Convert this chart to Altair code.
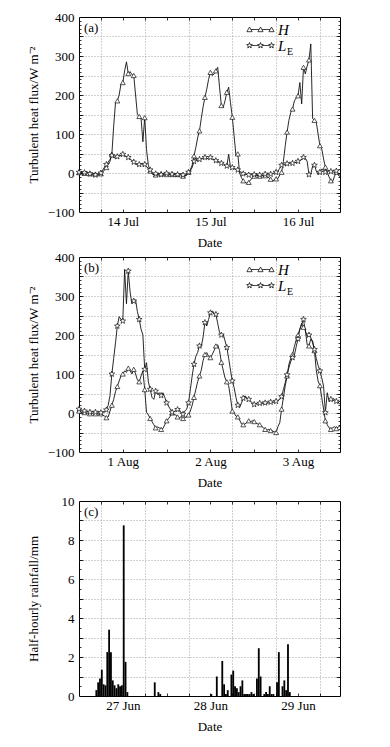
import math
import altair as alt
import pandas as pd

# ---------------- data (half-hourly, index i -> hour i*0.5) ----------------
H_a = [1, 0, 2, -1, 0, 1, -2, 0, -1, -3, -4, -3,
       -2, 3, 8, 14, 22, 30, 48, 120, 180, 185, 200, 228, 232, 262, 285, 255, 260, 252,
       250, 200, 150, 145, 140, 80, 142, 60, 20, 5, -2, -4,
       -5, -3, -4, -2, -5, -3, -4, -6, -3, -4, -5, -2, -4, -3, -6, -8, -7, -5,
       2, 8, 20, 44, 65, 90, 108, 140, 170, 194, 215, 240, 258, 250, 254, 262, 271, 220,
       173, 168, 185, 207, 220, 180, 143, 95, 44, 49, 0, -12, -20, -24, -26, -24, -18, -12,
       -8, -6, -7, -8, -6, -8, -7, -10,
       -12, -16, -20, -18, -15, -14, -5, 2, 30, 70, 105, 135, 155, 164, 185, 192, 198, 232,
       177, 271, 254, 274, 290, 331, 140, 135, 130, 100, 70, 62, 36, 15, 2, -10, -20, -22,
       -8, 2, -5, -10]
LE_a = [2, 0, 3, 1, 4, 0, -2, -4, -3, -5, -3, -2,
        0, 8, 15, 22, 28, 35, 45, 40, 38, 42, 46, 44, 48, 45, 42, 40, 36, 32,
        28, 24, 20, 22, 24, 20, 22, 16, 12, 8, -2, -3,
        -2, -3, -1, -4, -2, -3, -1, -2, -5, -3, -1, -2, -4, -3, -2, -5, -8, -6,
        2, 6, 14, 30, 38, 30, 35, 36, 38, 40, 38, 36, 40, 36, 35, 32, 30, 28,
        25, 24, 20, 18, 48, 15, 14, 12, 8, 8, 4, 2, -2, -4, -3, -5, -3, -6,
        -4, -3, -8, -5, -4, -7, -3, -5,
        -4, -3, -2, 0, 2, 5, 12, 20, 22, 20, 24, 26, 23, 25, 28, 26, 30, 32,
        35, 40, 38, 30, -4, -3, 18, 20, 5, -4, 2, 10, 8, 2, 5, 6, 4, 3,
        2, 5, -2, -6]
H_b = [5, 2, 0, 1, -1, 0, -2, -1, 0, -2, -1, -3, -2, -5, -8,
       -12, -10, 5, 20, 35, 55, 68, 82, 95, 100, 108, 104, 115, 108, 100,
       112, 100, 85, 80, 95, 108, 60, 2, -5, -14, -22, -30, -38, -36, -38,
       -42, -40, -30, -20, -15, -8, 0, -3, -5, -10, -12, -10, -14, -12, -10,
       -5, 5, 20, 40, 60, 80, 95, 110, 135, 150, 155, 145, 142, 150, 160,
       172, 175, 160, 130, 110, 90, 80, 70, 40, 5, 0, -8, -10, -18, -28,
       -30, -28, -24, -20, -22, -20, -22, -26, -28, -30, -34, -38, -42, -44, -42,
       -45, -46, -48, -50, -35, -25, 10, 40, 70, 95, 125, 140, 150, 170, 188,
       200, 215, 230, 220, 215, 175, 172, 190, 185, 160, 110, 82, 70, 40, 10,
       -20, -30, -38, -42, -38, -35, -40, -36, -33]
LE_b = [10, 6, 4, 5, 3, 4, 2, 3, 4, 2, 3, 2, 1, 2, 3,
        8, 20, 45, 100, 140, 180, 223, 247, 240, 236, 368, 280, 364, 310, 280,
        287, 290, 260, 240, 215, 200, 112, 129, 80, 61, 40, 35, 56, 48, 52,
        45, 52, 40, 26, 18, 10, 2, 3, 6, 9, 8, 0, -3, 5, 10,
        26, 60, 95, 125, 145, 155, 172, 170, 195, 232, 223, 240, 257, 262, 255,
        253, 230, 206, 200, 202, 185, 168, 140, 110, 82, 65, 40, 20, 14, 25,
        38, 44, 38, 35, 30, 26, 22, 24, 22, 25, 23, 25, 26, 25, 26,
        28, 27, 28, 30, 32, 35, 42, 60, 78, 98, 116, 132, 142, 148, 170,
        190, 215, 227, 240, 210, 197, 200, 193, 180, 163, 140, 122, 108, 90, 69,
        1, 52, 30, 35, 32, 35, 30, 28, 22]
rain_slot = [9, 10, 11, 12, 13, 14, 15, 16, 17, 18, 19, 20, 21, 22, 23, 24, 25, 26,
             41, 43, 44,
             72, 75, 78, 79, 80, 81, 83, 84, 85, 86, 87, 88, 89, 90, 91, 92, 93, 94, 95,
             97, 98, 99, 101, 102, 103, 104, 105, 106, 108, 109, 111, 112, 113, 114, 115]
rain_mm = [0.3, 0.7, 0.9, 1.35, 0.6, 0.55, 2.25, 3.4, 2.25, 0.8, 0.55, 0.4, 0.6, 0.5, 0.55, 8.75, 1.75, 0.2,
           0.7, 0.2, 0.1,
           0.1, 1.0, 1.8, 0.6, 0.1, 0.3, 1.1, 1.3, 0.5, 0.4, 0.2, 0.5, 0.8, 0.1, 0.1, 0.1, 0.1, 0.2, 0.1,
           0.9, 2.45, 1.0, 0.1, 0.2, 0.1, 0.5, 0.1, 0.1, 0.7, 2.25, 0.5, 0.8, 0.3, 2.65, 0.2]

labels_a = ["14 Jul", "15 Jul", "16 Jul"]
labels_b = ["1 Aug", "2 Aug", "3 Aug"]
labels_c = ["27 Jun", "28 Jun", "29 Jun"]
label_hours = [12, 36, 60]
grid_hours = [6, 18, 30, 42, 54, 66]
tick_hours = [6, 12, 18, 24, 30, 36, 42, 48, 54, 60, 66]
series_names = ["H", "LE"]

# ---------------- style ----------------
FONT = "Liberation Serif"
PW, PH = 261, 195
STEP = 0.5
X_DOMAIN = [0, 71.5]


def star_path(cx, r, ri):
    pts = []
    for k in range(10):
        a = math.radians(-90 + 36 * k)
        rr = r if k % 2 == 0 else ri
        pts.append((cx + rr * math.cos(a), rr * math.sin(a)))
    return "M" + "L".join(f"{x:.3f},{y:.3f}" for x, y in pts) + "Z"


STAR = star_path(0, 1, 0.42)
LEG_CENTERS = [0, 5.5, 11]
LEG_H = " ".join(f"M{c-1.3:.2f},1.1L{c:.2f},-1.2L{c+1.3:.2f},1.1Z" for c in LEG_CENTERS) + \
    " M0.7,0L4.8,0 M6.2,0L10.3,0"
LEG_LE = " ".join(star_path(c, 1.5, 0.63) for c in LEG_CENTERS) + " M1.0,0L4.5,0 M6.5,0L10,0"


def xenc(axis):
    return alt.X("h:Q", scale=alt.Scale(domain=X_DOMAIN, nice=False, zero=False), axis=axis)


def yenc(field, domain, axis):
    return alt.Y(f"{field}:Q", scale=alt.Scale(domain=domain, nice=False, zero=False), axis=axis)


def date_expr(labels):
    e = f"'{labels[-1]}'"
    for v, lab in reversed(list(zip(label_hours[:-1], labels[:-1]))):
        e = f"datum.value == {v} ? '{lab}' : ({e})"
    return e


def carriers(domain, ylab_vals, ygrid_vals, ymaj_vals, ymin_vals, labels, ytitle):
    small = pd.DataFrame({"h": [X_DOMAIN[0]], "v": [domain[0]]})
    x_axes = [
        alt.Axis(orient="bottom", values=label_hours, labelExpr=date_expr(labels), ticks=False,
                 tickSize=0, domain=False, grid=False, labelPadding=3, title="Date", titlePadding=8),
        alt.Axis(orient="bottom", values=grid_hours, grid=True, labels=False, ticks=False,
                 domain=False, title=None),
        alt.Axis(orient="bottom", values=tick_hours, tickSize=3, offset=-3, labels=False,
                 domain=False, grid=False, title=None),
        alt.Axis(orient="top", values=tick_hours, tickSize=3, offset=-3, labels=False,
                 domain=False, grid=False, title=None),
        None, None,
    ]
    y_axes = [
        alt.Axis(orient="left", values=ylab_vals, ticks=False, tickSize=0, domain=False,
                 grid=False, labelPadding=5, title=ytitle, titleX=-46, titleBaseline="middle"),
        alt.Axis(orient="left", values=ygrid_vals, grid=True, labels=False, ticks=False,
                 domain=False, title=None),
        alt.Axis(orient="left", values=ymaj_vals, tickSize=4, offset=-4, labels=False,
                 domain=False, grid=False, title=None),
        alt.Axis(orient="left", values=ymin_vals, tickSize=2, offset=-2, labels=False,
                 domain=False, grid=False, title=None),
        alt.Axis(orient="right", values=ymaj_vals, tickSize=4, offset=-4, labels=False,
                 domain=False, grid=False, title=None),
        alt.Axis(orient="right", values=ymin_vals, tickSize=2, offset=-2, labels=False,
                 domain=False, grid=False, title=None),
    ]
    out = []
    for xa, ya in zip(x_axes, y_axes):
        out.append(alt.Chart(small).mark_point(opacity=0).encode(
            x=xenc(xa), y=yenc("v", domain, ya)))
    return out


def tag_layer(tag):
    return alt.Chart(pd.DataFrame({"t": [tag]})).mark_text(
        font=FONT, fontSize=13, align="left", baseline="middle", color="black"
    ).encode(text="t:N", x=alt.value(5), y=alt.value(11))


def flux_panel(H, LE, labels, tag):
    dom = [-100, 400]
    df = pd.DataFrame({"h": [i * STEP for i in range(len(H))], "H": H, "LE": LE})
    long = df.melt("h", var_name="series", value_name="v")
    mk = df.iloc[::3]
    mk_long = mk.melt("h", var_name="series", value_name="v")
    line = alt.Chart(long).mark_line(color="#111", strokeWidth=0.9).encode(
        x=xenc(None), y=yenc("v", dom, None), detail="series:N")
    pH = alt.Chart(mk).mark_point(shape="triangle-up", size=24, filled=True, fill="white",
                                  stroke="#111", strokeWidth=0.7, opacity=1).encode(
        x=xenc(None), y=yenc("H", dom, None))
    pL = alt.Chart(mk).mark_point(shape=STAR, size=36, filled=True, fill="white",
                                  stroke="#111", strokeWidth=0.7, opacity=1).encode(
        x=xenc(None), y=yenc("LE", dom, None))
    leg = alt.Chart(mk_long).mark_point(filled=True, fill="white", stroke="#111",
                                        strokeWidth=0.8, opacity=0, size=16).encode(
        x=xenc(None), y=yenc("v", dom, None),
        shape=alt.Shape("series:N", scale=alt.Scale(domain=series_names, range=[LEG_H, LEG_LE]),
                        legend=alt.Legend(title=None, orient="none", legendX=163, legendY=5,
                                          symbolSize=16, symbolOpacity=1, symbolStrokeWidth=0.8,
                                          labelFont=FONT, labelFontSize=15, labelFontStyle="italic",
                                          labelColor="black", labelOffset=21, rowPadding=-1,
                                          padding=0,
                                          labelExpr="datum.label == 'LE' ? 'L' : datum.label")))
    sub = alt.Chart(pd.DataFrame({"t": ["E"]})).mark_text(
        font=FONT, fontSize=10, align="center", baseline="middle", color="black"
    ).encode(text="t:N", x=alt.value(211), y=alt.value(35))
    cs = carriers(dom, [-100, 0, 100, 200, 300, 400], list(range(-50, 400, 50)),
                  list(range(-50, 400, 50)), list(range(-90, 400, 10)), labels,
                  "Turbulent heat flux/W m⁻²")
    return alt.layer(*cs, line, pH, pL, leg, tag_layer(tag), sub).resolve_axis(
        x="independent", y="independent").properties(width=PW, height=PH)


def rain_panel():
    dom = [0, 10]
    df = pd.DataFrame({"h": [s * STEP for s in rain_slot], "mm": rain_mm})
    df["h2"] = df["h"] + STEP
    bars = alt.Chart(df).mark_rect(color="black").encode(
        x=xenc(None), x2="h2:Q", y=yenc("mm", dom, None), y2=alt.datum(0))
    cs = carriers(dom, [0, 2, 4, 6, 8, 10], list(range(1, 10)), list(range(1, 10)),
                  [i * 0.5 for i in range(1, 20)], labels_c, "Half-hourly rainfall/mm")
    return alt.layer(*cs, bars, tag_layer("(c)")).resolve_axis(
        x="independent", y="independent").properties(width=PW, height=PH)


pa = flux_panel(H_a, LE_a, labels_a, "(a)")
pb = flux_panel(H_b, LE_b, labels_b, "(b)")
pc = rain_panel()

top = alt.vconcat(pa, pb, spacing=0).resolve_scale(shape="independent").resolve_legend(shape="independent")
chart = alt.vconcat(top, pc, spacing=4).resolve_scale(shape="independent").resolve_legend(
    shape="independent").properties(
    padding={"left": 18, "top": 2, "right": 5, "bottom": 5}
).configure_view(stroke="black", strokeWidth=1).configure_axis(
    labelFont=FONT, labelFontSize=13, labelColor="black", titleFont=FONT, titleFontSize=13,
    titleFontWeight="normal", titleColor="black", tickColor="black", tickWidth=0.8,
    grid=False, gridColor="#8a8a8a", gridDash=[1, 2], gridWidth=0.8, labelFlush=False
)

chart.save("out.html", embed_options={"renderer": "svg", "actions": False})
